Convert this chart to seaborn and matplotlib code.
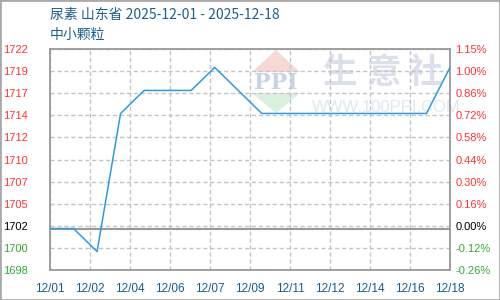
import numpy as np
import pandas as pd
import matplotlib
matplotlib.use("Agg")
import matplotlib.pyplot as plt
from matplotlib.patches import Rectangle, Polygon
import seaborn as sns

# ---- data ----
dates = ["12/01", "12/02", "12/03", "12/04", "12/05", "12/06", "12/07", "12/08", "12/09",
         "12/10", "12/11", "12/12", "12/13", "12/14", "12/15", "12/16", "12/17", "12/18"]
prices = [1702.5, 1702.5, 1700.0, 1715.0, 1717.5, 1717.5, 1717.5, 1720.0, 1717.5,
          1715.0, 1715.0, 1715.0, 1715.0, 1715.0, 1715.0, 1715.0, 1715.0, 1720.0]
base_price = 1702.5
x_tick_labels = ["12/01", "12/02", "12/04", "12/06", "12/07", "12/09",
                 "12/11", "12/12", "12/14", "12/16", "12/18"]
y_min, y_max = 1698, 1722
left_labels = ["1722", "1719", "1717", "1714", "1712", "1710", "1707", "1705", "1702", "1700", "1698"]
right_labels = ["1.15%", "1.00%", "0.86%", "0.72%", "0.58%", "0.44%", "0.30%", "0.16%", "0.00%", "-0.12%", "-0.26%"]
label_signs = [1, 1, 1, 1, 1, 1, 1, 1, 0, -1, -1]
title_line1 = "尿素 山东省 2025-12-01 - 2025-12-18"
title_line2 = "中小颗粒"

sns.set_style("white")
plt.rcParams['font.family'] = ['Noto Sans CJK SC', 'DejaVu Sans']

df = pd.DataFrame({"idx": np.arange(len(dates)), "price": prices})

fig = plt.figure(figsize=(5, 3), dpi=100)
ax = fig.add_axes([50 / 500, 30 / 300, 400 / 500, 221 / 300])

GRID = "#c4c4c4"
AXC = "#999999"
sign_color = {1: "#ff3333", 0: "#000000", -1: "#33aa33"}

ax.set_xlim(0, len(dates) - 1)
ax.set_ylim(y_min, y_max)

yt = np.linspace(y_max, y_min, len(left_labels))
xt = np.linspace(0, len(dates) - 1, len(x_tick_labels))

ax.set_yticks(yt)
ax.set_yticklabels(left_labels)
ax.set_xticks(xt)
ax.set_xticklabels(x_tick_labels)

ax.grid(True, color=GRID, linestyle=(0, (3, 2)), linewidth=1)
ax.set_axisbelow(True)

# watermark (figure pixel coords)
def fp(x, y):
    return (x / 500, 1 - y / 300)

fig.patches.append(Polygon([fp(252, 72), fp(276, 50), fp(300, 72)], closed=True,
                           transform=fig.transFigure, facecolor="#f8d8d4", edgecolor="none", zorder=0.5))
fig.patches.append(Polygon([fp(252, 93), fp(276, 113), fp(300, 93)], closed=True,
                           transform=fig.transFigure, facecolor="#d9f0de", edgecolor="none", zorder=0.5))
fig.patches.append(Rectangle(fp(318, 122), 132 / 500, 70 / 300, transform=fig.transFigure,
                             facecolor="white", edgecolor="none", alpha=0.85, zorder=0.6))
ax.set_zorder(1)
ax.patch.set_alpha(0)

ax.axhline(base_price, color=AXC, linewidth=1.5, zorder=2)

sns.lineplot(data=df, x="idx", y="price", ax=ax, color="#3399dd", linewidth=1.1, zorder=3)

fig.text(*fp(276, 83), "PPI", fontsize=16, color="#c9d3e6", ha="center", va="center",
         family="DejaVu Serif", fontweight="bold", zorder=0.7)
for ch, cx in zip("生意社", [340, 384, 425]):
    fig.text(*fp(cx, 72), ch, fontsize=25, color="#dbe0eb", ha="center", va="center",
             fontweight="bold", zorder=0.7)
fig.text(*fp(386, 107), "WWW.100PPI.COM", fontsize=12, color="#e2e6ee", ha="center", va="center",
         family="Liberation Sans", zorder=0.7)

ax.set_xlabel("")
ax.set_ylabel("")

for s in ax.spines.values():
    s.set_color(AXC)
    s.set_linewidth(1.3)

ax.tick_params(axis="both", length=0)
ax.tick_params(axis="y", pad=16, labelsize=8)
ax.tick_params(axis="x", pad=9, labelsize=8.5, labelcolor="#1a5a8a")
for lab in ax.get_yticklabels():
    lab.set_family("Liberation Sans")
for lab, sgn in zip(ax.get_yticklabels(), label_signs):
    lab.set_color(sign_color[sgn])
for lab in ax.get_xticklabels():
    lab.set_family("Liberation Sans")

ax2 = ax.twinx()
ax2.set_ylim(y_min, y_max)
ax2.set_yticks(yt)
ax2.set_yticklabels(right_labels)
ax2.tick_params(axis="y", length=0, pad=4, labelsize=8)
for lab, sgn in zip(ax2.get_yticklabels(), label_signs):
    lab.set_color(sign_color[sgn])
    lab.set_family("Liberation Sans")
for s in ax2.spines.values():
    s.set_visible(False)
ax2.grid(False)

fig.text(50 / 500, 1 - 15 / 300, title_line1, fontsize=10, color="#1e5f8e", ha="left", va="center",
         family=["Noto Sans CJK SC", "DejaVu Sans"])
fig.text(50 / 500, 1 - 35 / 300, title_line2, fontsize=10, color="#1e5f8e", ha="left", va="center",
         family=["Noto Sans CJK SC", "DejaVu Sans"])

fig.patches.append(Rectangle((0, 0), 1, 1, transform=fig.transFigure, fill=False,
                             edgecolor="#aaaaaa", linewidth=2, zorder=10))

fig.savefig("out.png", dpi=100)
